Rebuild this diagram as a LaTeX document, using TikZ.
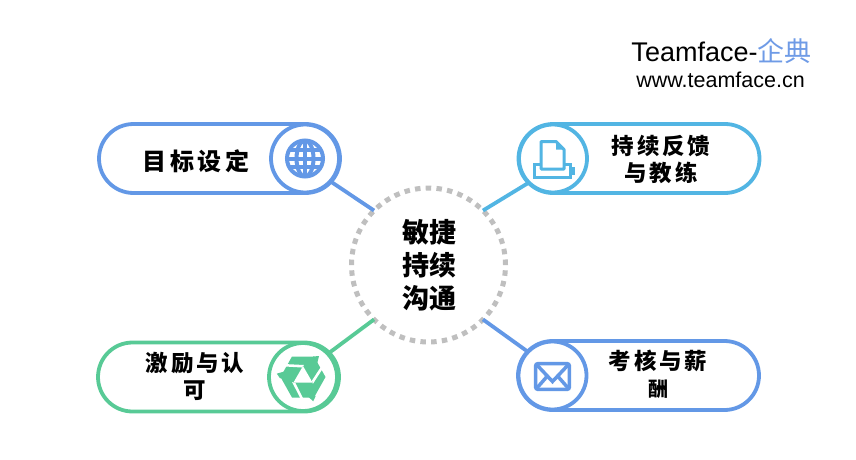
\documentclass[tikz,border=0pt]{standalone}
\usepackage{fontspec}
\setmainfont{Liberation Sans}
\newfontfamily\cjkplain{Noto Sans CJK SC}
\newfontfamily\cjkwide[LetterSpace=16]{Noto Sans CJK SC}
\newfontfamily\cjkmid[LetterSpace=13]{Noto Sans CJK SC}
\usetikzlibrary{calc}
\usetikzlibrary{positioning}
\usetikzlibrary{shapes.misc}
\definecolor{softBlue}{HTML}{6398E6}
\definecolor{softCyan}{HTML}{52B5E3}
\definecolor{softGreen}{HTML}{58CA96}
\definecolor{softGray}{HTML}{BFBFBF}
\definecolor{logoBlue}{HTML}{6F9BE6}
\tikzset{
  pill/.style={draw=#1, line width=3.8pt, rounded rectangle, fill=white, inner sep=0pt, outer sep=0pt, minimum width=241pt, minimum height=69pt},
  iconring/.style={draw=#1, line width=3.8pt, circle, fill=white, inner sep=0pt, outer sep=0pt, minimum size=68pt},
  spoke/.style={draw=#1, line width=3.8pt},
  hubring/.style={draw=softGray, line width=5pt, circle, inner sep=0pt, outer sep=0pt, minimum size=154pt, dash pattern=on 5.5pt off 5.25pt},
  cardtext/.style={align=center, inner sep=0pt, font=\cjkmid\bfseries\fontsize{22.5}{27}\selectfont},
}
\begin{document}
\begin{tikzpicture}[x=1pt,y=-1pt]
  \useasboundingbox (0,0) rectangle (856,460);
  \node[hubring] (hub) at (428.5,265) {};
  \node[align=center, inner sep=0pt, font=\cjkplain\bfseries\fontsize{27}{33}\selectfont] (hubtext) at (429,265) {敏捷\\持续\\沟通};

  \node[pill=softBlue] (pillTL) at (219.5,158.5) {};
  \node[pill=softCyan] (pillTR) at (639,158.5) {};
  \node[pill=softGreen] (pillBL) at (218.5,377) {};
  \node[pill=softBlue] (pillBR) at (638.5,375.5) {};
  \node[iconring=softBlue] (iconTL) at (305,158.5) {};
  \node[iconring=softCyan] (iconTR) at (553,158.5) {};
  \node[iconring=softGreen] (iconBL) at (303,377) {};
  \node[iconring=softBlue] (iconBR) at (552.5,375.5) {};

  \draw[spoke=softBlue] (hub.135) -- (iconTL.-42);
  \draw[spoke=softCyan] (hub.45) -- (iconTR.225);
  \draw[spoke=softGreen] (hub.225) -- (iconBL.43);
  \draw[spoke=softBlue] (hub.-45) -- (iconBR.136);

  \node[cardtext, font=\cjkwide\bfseries\fontsize{24}{27}\selectfont] (textTL) at (196,161.5) {目标设定};
  \node[cardtext] (textTR) at (661,159) {持续反馈\\与教练};
  \node[cardtext] (textBL) at (195,376) {激励与认\\可};
  \node[cardtext] (textBR) at (658,374.5) {考核与薪\\{\cjkplain\fontsize{20}{27}\selectfont 酬}};

  \node[anchor=base, inner sep=0pt, font=\fontsize{27}{30}\selectfont] (logo) at (721.5,61) {Teamface-{\cjkplain\color{logoBlue}企典}};
  \node[anchor=base, inner sep=0pt, font=\fontsize{21.5}{25}\selectfont] (site) at (720.5,87) {www.teamface.cn};

  % globe
  \begin{scope}[shift={(iconTL.center)}, softBlue, line width=4pt]
    \draw (0,0) circle (18);
    \begin{scope}
      \clip (0,0) circle (18);
      \draw (-20,-8.5) -- (20,-8.5);
      \draw (-20,0) -- (20,0);
      \draw (-20,8.5) -- (20,8.5);
      \draw (0,-20) -- (0,20);
      \draw (0,0) ellipse (8.5 and 18);
    \end{scope}
  \end{scope}

  % printer
  \begin{scope}[shift={(iconTR.center)}, softCyan, line width=3pt]
    \draw (-18.5,5.5) rectangle (17,19);
    \fill (18,8) rectangle (21.5,16.5);
    \draw[fill=white, line join=round] (-12,10.5) -- (-12,-17) -- (3,-17) -- (11,-9) -- (11,10.5) -- cycle;
    \fill (3,-15) -- (9,-9) -- (3,-9) -- cycle;
  \end{scope}

  % recycle arrows
  \begin{scope}[shift={(iconBL.center)}]
    \fill[softGreen] (-11,-20.5) -- (11,-20.5) -- (22.5,0) -- (11,20.5) -- (-11,20.5) -- (-22.5,0) -- cycle;
    \fill[white] (0,-11) -- (9.5,5.5) -- (-9.5,5.5) -- cycle;
    \foreach \ang in {0,120,240} {
      \fill[white, rotate=\ang] (1,-12) -- (-19,-13) -- (-18,-10.5) -- (-1.5,-9.5) -- cycle;
      \fill[softGreen, rotate=\ang] (10,-20.5) -- (16,-21) -- (14,-13) -- cycle;
    }
  \end{scope}

  % envelope
  \begin{scope}[shift={(iconBR.center)}, softBlue, line width=3.5pt]
    \draw[rounded corners=2pt] (-16.8,-11.8) rectangle (16.8,13.8);
    \draw (-16,-11) -- (0,6) -- (16,-11);
    \draw (-16,13) -- (-5.5,1);
    \draw (16,13) -- (5.5,1);
  \end{scope}
\end{tikzpicture}
\end{document}
